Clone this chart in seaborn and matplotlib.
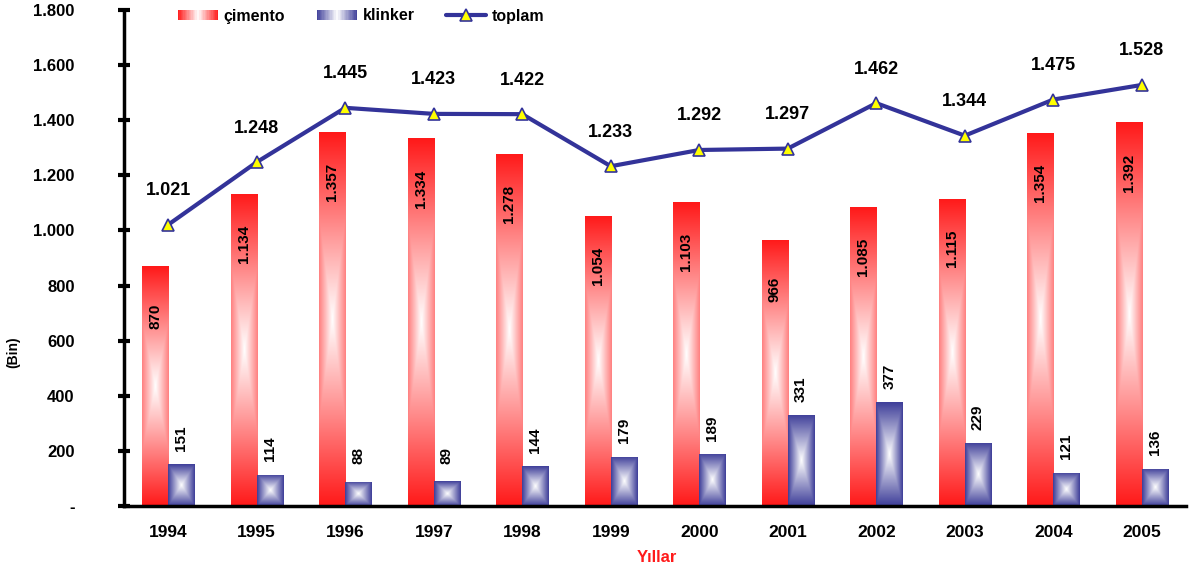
import matplotlib
import matplotlib.pyplot as plt
import numpy as np
import pandas as pd
import seaborn as sns
from matplotlib.colors import to_rgb
from matplotlib.legend_handler import HandlerBase
from matplotlib.lines import Line2D
from matplotlib.patches import Rectangle

matplotlib.use('agg')

years = ['1994', '1995', '1996', '1997', '1998', '1999', '2000', '2001', '2002', '2003', '2004', '2005']
cimento = [870, 1134, 1357, 1334, 1278, 1054, 1103, 966, 1085, 1115, 1354, 1392]
klinker = [151, 114, 88, 89, 144, 179, 189, 331, 377, 229, 121, 136]
toplam = [1021, 1248, 1445, 1423, 1422, 1233, 1292, 1297, 1462, 1344, 1475, 1528]
y_ticks = [0, 200, 400, 600, 800, 1000, 1200, 1400, 1600, 1800]

RED = '#FF1A1A'
BLUE = '#40409A'
NAVY = '#333399'


def fmt(v):
    # turkish thousands separator
    return '{:,}'.format(v).replace(',', '.')


def gradient(rgb, ny, nx, wx):
    # rectangular gradient: base colour on the border, white in the centre
    u = np.abs(np.linspace(-1, 1, nx)) * wx
    v = np.abs(np.linspace(-1, 1, ny))
    U, V = np.meshgrid(u, v)
    t = np.maximum(U, V)
    base = np.array(to_rgb(rgb))
    return 1 - (1 - base)[None, None, :] * t[..., None]


class GradHandler(HandlerBase):
    def __init__(self, rgb):
        super().__init__()
        self.rgb = np.array(to_rgb(rgb))

    def create_artists(self, legend, orig_handle, xdescent, ydescent, width, height, fontsize, trans):
        arts = []
        n = 30
        h = height * 0.95
        y0 = -ydescent + (height - h) / 2
        for k in range(n):
            t = abs((k + 0.5) / n * 2 - 1)
            col = 1 - (1 - self.rgb) * t
            arts.append(Rectangle((-xdescent + k * width / n, y0), width / n * 1.05, h,
                                  facecolor=col, edgecolor='none', transform=trans))
        return arts


sns.set_theme(style='white')
plt.rcParams['font.family'] = ['Liberation Sans', 'DejaVu Sans']
plt.rcParams['font.weight'] = 'bold'
plt.rcParams['text.color'] = 'black'
plt.rcParams['axes.labelcolor'] = 'black'
plt.rcParams['xtick.color'] = 'black'
plt.rcParams['ytick.color'] = 'black'

fig = plt.figure(figsize=(11.92, 5.64), dpi=100)
ax = fig.add_axes([124 / 1192, 1 - 506 / 564, 1062 / 1192, 496 / 564])

df = pd.DataFrame({'Yıl': years * 2,
                   'değer': cimento + klinker,
                   'tür': ['çimento'] * len(years) + ['klinker'] * len(years)})
sns.barplot(data=df, x='Yıl', y='değer', hue='tür', palette=[RED, BLUE],
            width=0.59, saturation=1, legend=False, ax=ax)

# replace flat fills with gradients clipped to each bar
for k, bar in enumerate(ax.patches):
    x0, w, h = bar.get_x(), bar.get_width(), bar.get_height()
    if k < len(years):
        img = gradient(RED, 120, 40, 0.55)
    else:
        img = gradient(BLUE, 60, 40, 1.0)
    im = ax.imshow(img, extent=[x0, x0 + w, 0, h], aspect='auto', zorder=1.5, interpolation='bilinear')
    im.set_clip_path(bar)
    bar.set_facecolor('none')
    bar.set_edgecolor('none')

sns.pointplot(x=years, y=toplam, color=NAVY, markers='^', errorbar=None, ax=ax)
line = ax.lines[-1]
line.set_linewidth(3)
line.set_markersize(8)
line.set_markerfacecolor('#FFFF00')
line.set_markeredgecolor(NAVY)
line.set_markeredgewidth(1.2)
line.set_zorder(3)

for k, bar in enumerate(ax.patches):
    cx = bar.get_x() + bar.get_width() / 2
    h = bar.get_height()
    if k < len(years):
        ax.annotate(fmt(cimento[k]), (cx, h), xytext=(0, -50), textcoords='offset pixels',
                    rotation=90, ha='center', va='center', fontsize=11, fontweight='bold', zorder=4)
    else:
        ax.annotate(fmt(klinker[k - len(years)]), (cx, h), xytext=(0, 26), textcoords='offset pixels',
                    rotation=90, ha='center', va='center', fontsize=11, fontweight='bold', zorder=4)

for i, v in enumerate(toplam):
    ax.annotate(fmt(v), (i, v), xytext=(0, 34), textcoords='offset pixels',
                ha='center', va='center', fontsize=13, fontweight='bold', zorder=4)

ax.set_xlim(-0.5, len(years) - 0.5)
ax.set_ylim(0, 1800)
ax.set_yticks(y_ticks)
ax.set_yticklabels(['-'] + [fmt(v) for v in y_ticks[1:]], fontsize=12, fontweight='bold')
ax.set_xticks(range(len(years)))
ax.set_xticklabels(years, fontsize=12.5, fontweight='bold')
ax.set_xticks(np.arange(-0.5, len(years), 1), minor=True)
ax.tick_params(axis='x', which='major', length=0, pad=14)
ax.tick_params(axis='x', which='minor', direction='inout', length=12, width=3, color='black')
ax.tick_params(axis='y', which='major', direction='inout', length=9, width=3, color='black', pad=31, left=True)

for side in ['top', 'right']:
    ax.spines[side].set_visible(False)
for side in ['left', 'bottom']:
    ax.spines[side].set_linewidth(2.5)
    ax.spines[side].set_color('black')

ax.set_ylabel('(Bin)', fontsize=10, fontweight='bold')
ax.yaxis.set_label_coords(-0.098, 0.31)
ax.set_xlabel('Yıllar', fontsize=12, fontweight='bold', color='#FF1A1A')
ax.xaxis.set_label_coords(0.502, -0.088)

h_cim = Rectangle((0, 0), 1, 1)
h_kli = Rectangle((0, 0), 1, 1)
h_top = Line2D([], [], color=NAVY, lw=3, marker='^', ms=8, mfc='#FFFF00', mec=NAVY, mew=1.2)
fig.legend([h_cim, h_kli, h_top], ['çimento', 'klinker', 'toplam'],
           handler_map={h_cim: GradHandler(RED), h_kli: GradHandler(BLUE)},
           loc='center left', bbox_to_anchor=(178 / 1192, 1 - 16 / 564), ncol=3, frameon=False,
           handlelength=2.5, handletextpad=0.35, columnspacing=2.0,
           borderpad=0, borderaxespad=0, prop={'weight': 'bold', 'size': 11.5})

fig.savefig('out.png', dpi=100)
